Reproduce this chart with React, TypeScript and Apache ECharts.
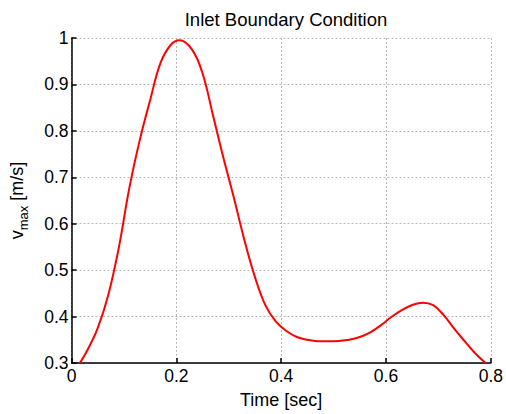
import React, { useEffect, useRef } from "react";
import * as echarts from "echarts";

const timeSec = [0.016, 0.03, 0.05, 0.07, 0.09, 0.11, 0.13, 0.15, 0.17, 0.19, 0.206, 0.23, 0.25, 0.27, 0.29, 0.31, 0.33, 0.35, 0.37, 0.39, 0.41, 0.43, 0.45, 0.47, 0.49, 0.51, 0.53, 0.55, 0.57, 0.59, 0.61, 0.63, 0.65, 0.67, 0.69, 0.71, 0.73, 0.75, 0.77, 0.79];
const vmax = [0.3, 0.327, 0.375, 0.446, 0.547, 0.675, 0.779, 0.866, 0.947, 0.986, 0.995, 0.975, 0.924, 0.833, 0.741, 0.655, 0.564, 0.485, 0.424, 0.389, 0.369, 0.356, 0.35, 0.347, 0.3467, 0.3475, 0.35, 0.356, 0.366, 0.381, 0.399, 0.414, 0.425, 0.43, 0.4245, 0.403, 0.374, 0.347, 0.321, 0.3];

const FONT = "Liberation Sans, Arial, sans-serif";

export default function App() {
  const ref = useRef<HTMLDivElement>(null);
  useEffect(() => {
    if (!ref.current) return;
    const chart = echarts.init(ref.current, null, { renderer: "svg" });
    const data = timeSec.map((t, i) => [t, vmax[i]]);
    chart.setOption({
      animation: false,
      backgroundColor: "#fff",
      title: {
        text: "Inlet Boundary Condition",
        left: 281,
        top: 5,
        textAlign: "center",
        textStyle: { fontFamily: FONT, fontSize: 18.5, fontWeight: "normal", color: "#000" },
      },
      grid: { left: 71, right: 15, top: 38, bottom: 46, containLabel: false },
      xAxis: {
        type: "value",
        min: 0,
        max: 0.8,
        interval: 0.2,
        name: "Time [sec]",
        nameLocation: "middle",
        nameGap: 28,
        nameTextStyle: { fontFamily: FONT, fontSize: 18, color: "#000" },
        axisLine: { show: true, onZero: false, lineStyle: { color: "#000", width: 1.5 } },
        axisTick: { show: true, inside: true, length: 5, lineStyle: { color: "#000", width: 1.5 } },
        axisLabel: { fontFamily: FONT, fontSize: 17.5, color: "#000", margin: 4 },
        splitLine: { show: true, lineStyle: { color: "#b8b8b8", type: [2, 2], width: 1 } },
      },
      yAxis: {
        type: "value",
        min: 0.3,
        max: 1,
        interval: 0.1,
        name: "{v|v}{sub|max}{v| [m/s]}",
        nameLocation: "middle",
        nameGap: 42,
        nameTextStyle: {
          fontFamily: FONT,
          fontSize: 18,
          color: "#000",
          rich: {
            v: { fontFamily: FONT, fontSize: 18, color: "#000" },
            sub: { fontFamily: FONT, fontSize: 13, color: "#000", padding: [12, 0, 0, 0] },
          },
        },
        axisLine: { show: true, lineStyle: { color: "#000", width: 1.5 } },
        axisTick: { show: true, inside: true, length: 5, lineStyle: { color: "#000", width: 1.5 } },
        axisLabel: {
          fontFamily: FONT,
          fontSize: 17.5,
          color: "#000",
          margin: 3,
          formatter: (v: number) => String(parseFloat(v.toFixed(1))),
        },
        splitLine: { show: true, lineStyle: { color: "#b8b8b8", type: [2, 2], width: 1 } },
      },
      series: [
        {
          type: "line",
          data,
          smooth: 0.4,
          showSymbol: false,
          symbol: "none",
          lineStyle: { color: "#ff0000", width: 2 },
        },
      ],
    });
    return () => chart.dispose();
  }, []);
  return <div ref={ref} style={{ width: 506, height: 414, position: "absolute", left: 0, top: 0 }} />;
}
